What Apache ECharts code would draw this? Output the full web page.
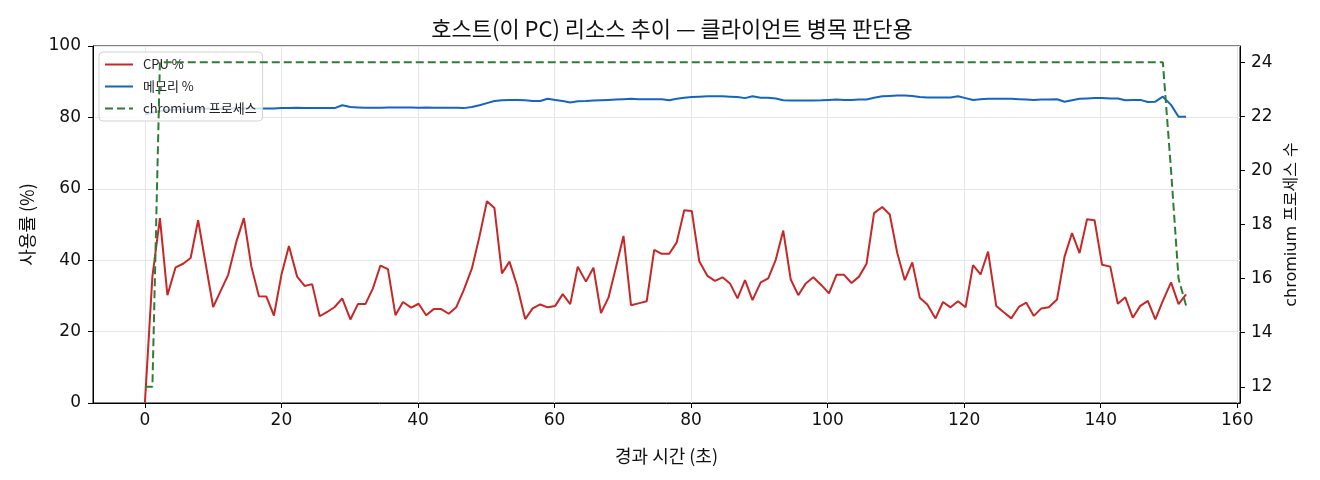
<!DOCTYPE html>
<html>
<head>
<meta charset="utf-8">
<script src="https://cdn.jsdelivr.net/npm/echarts@6/dist/echarts.min.js"></script>
<style>
  html, body { margin: 0; padding: 0; background: #fff; }
  #chart { width: 1320px; height: 480px; }
</style>
</head>
<body>
<div id="chart"></div>
<script>
// 경과 시간 (초) - 샘플 시각
var times = [
  0, 1.1, 2.2, 3.3, 4.5, 5.6, 6.7, 7.8, 8.9, 10.0,
  11.1, 12.2, 13.4, 14.5, 15.6, 16.7, 17.8, 18.9, 20.0, 21.1,
  22.3, 23.4, 24.5, 25.6, 26.7, 27.8, 28.9, 30.1, 31.2, 32.3,
  33.4, 34.5, 35.6, 36.7, 37.8, 39.0, 40.1, 41.2, 42.3, 43.4,
  44.5, 45.6, 46.7, 47.9, 49.0, 50.1, 51.2, 52.3, 53.4, 54.5,
  55.7, 56.8, 57.9, 59.0, 60.1, 61.2, 62.3, 63.4, 64.6, 65.7,
  66.8, 67.9, 69.0, 70.1, 71.2, 72.3, 73.5, 74.6, 75.7, 76.8,
  77.9, 79.0, 80.1, 81.2, 82.4, 83.5, 84.6, 85.7, 86.8, 87.9,
  89.0, 90.2, 91.3, 92.4, 93.5, 94.6, 95.7, 96.8, 97.9, 99.1,
  100.2, 101.3, 102.4, 103.5, 104.6, 105.7, 106.8, 108.0, 109.1, 110.2,
  111.3, 112.4, 113.5, 114.6, 115.8, 116.9, 118.0, 119.1, 120.2, 121.3,
  122.4, 123.5, 124.7, 125.8, 126.9, 128.0, 129.1, 130.2, 131.3, 132.4,
  133.6, 134.7, 135.8, 136.9, 138.0, 139.1, 140.2, 141.4, 142.5, 143.6,
  144.7, 145.8, 146.9, 148.0, 149.1, 150.3, 151.4, 152.5
];

// CPU %
var cpu = [
  0, 35.4, 51.8, 30.2, 38.0, 39.0, 40.6, 51.2, 39.0, 26.9,
  31.4, 35.9, 45.2, 51.8, 38.2, 29.9, 29.8, 24.5, 35.9, 44.0,
  35.4, 32.8, 33.3, 24.3, 25.5, 26.9, 29.3, 23.4, 27.7, 27.7,
  32.1, 38.5, 37.5, 24.6, 28.3, 26.7, 27.8, 24.6, 26.3, 26.3,
  25.0, 26.8, 31.6, 37.7, 46.6, 56.5, 54.6, 36.3, 39.6, 33.0,
  23.5, 26.5, 27.6, 26.8, 27.2, 30.5, 27.7, 38.2, 34.0, 37.9,
  25.2, 29.5, 38.0, 46.8, 27.4, 27.9, 28.5, 42.9, 41.8, 41.8,
  45.0, 54.0, 53.8, 39.7, 35.6, 34.2, 35.2, 33.5, 29.3, 34.4,
  28.8, 33.8, 34.9, 40.1, 48.3, 34.6, 30.2, 33.5, 35.2, 33.0,
  30.7, 35.9, 35.9, 33.6, 35.4, 39.0, 53.2, 54.9, 52.8, 42.0,
  34.4, 39.4, 29.5, 27.6, 23.7, 28.3, 26.8, 28.5, 26.8, 38.6,
  36.0, 42.4, 27.2, 25.4, 23.7, 26.9, 28.1, 24.4, 26.5, 26.8,
  29.0, 41.0, 47.6, 42.0, 51.5, 51.2, 38.7, 38.2, 27.8, 29.6,
  23.9, 27.2, 28.6, 23.4, 28.6, 33.8, 27.7, 30.4
];

// 메모리 %
var mem = [
  80.8, 81.3, 81.8, 82.0, 82.2, 82.3, 82.3, 82.4, 82.4, 82.4,
  82.4, 82.5, 82.5, 82.5, 82.5, 82.5, 82.5, 82.5, 82.6, 82.6,
  82.7, 82.6, 82.6, 82.6, 82.6, 82.6, 83.4, 82.9, 82.8, 82.7,
  82.7, 82.7, 82.8, 82.8, 82.8, 82.8, 82.7, 82.8, 82.7, 82.7,
  82.7, 82.7, 82.6, 82.9, 83.4, 84.0, 84.6, 84.8, 84.9, 84.9,
  84.8, 84.6, 84.6, 85.2, 84.9, 84.6, 84.2, 84.5, 84.6, 84.7,
  84.8, 84.9, 85.0, 85.1, 85.2, 85.1, 85.1, 85.1, 85.1, 84.8,
  85.2, 85.5, 85.7, 85.8, 85.9, 85.9, 85.9, 85.8, 85.7, 85.4,
  85.9, 85.5, 85.5, 85.3, 84.8, 84.7, 84.7, 84.7, 84.7, 84.8,
  84.9, 85.0, 84.9, 84.9, 85.0, 85.0, 85.5, 85.9, 86.0, 86.1,
  86.1, 86.0, 85.7, 85.6, 85.6, 85.6, 85.6, 85.9, 85.4, 84.9,
  85.1, 85.2, 85.2, 85.2, 85.2, 85.1, 85.0, 84.9, 85.0, 85.0,
  85.1, 84.4, 84.8, 85.2, 85.3, 85.4, 85.4, 85.3, 85.3, 84.8,
  84.9, 84.9, 84.3, 84.4, 85.8, 83.5, 80.2, 80.2
];

// chromium 프로세스 수
var procs = [
  12, 12, 24, 24, 24, 24, 24, 24, 24, 24,
  24, 24, 24, 24, 24, 24, 24, 24, 24, 24,
  24, 24, 24, 24, 24, 24, 24, 24, 24, 24,
  24, 24, 24, 24, 24, 24, 24, 24, 24, 24,
  24, 24, 24, 24, 24, 24, 24, 24, 24, 24,
  24, 24, 24, 24, 24, 24, 24, 24, 24, 24,
  24, 24, 24, 24, 24, 24, 24, 24, 24, 24,
  24, 24, 24, 24, 24, 24, 24, 24, 24, 24,
  24, 24, 24, 24, 24, 24, 24, 24, 24, 24,
  24, 24, 24, 24, 24, 24, 24, 24, 24, 24,
  24, 24, 24, 24, 24, 24, 24, 24, 24, 24,
  24, 24, 24, 24, 24, 24, 24, 24, 24, 24,
  24, 24, 24, 24, 24, 24, 24, 24, 24, 24,
  24, 24, 24, 24, 24, 20, 16, 15
];

var xTicks = [0, 20, 40, 60, 80, 100, 120, 140, 160];
var procTicks = [12, 14, 16, 18, 20, 22, 24];

var FONT = "'DejaVu Sans', 'Noto Sans CJK KR', sans-serif";
var KFONT = "'Noto Sans CJK KR', sans-serif";

function pairs(vals) {
  return times.map(function (t, i) { return [t, vals[i]]; });
}

var chart = echarts.init(document.getElementById('chart'), null, { renderer: 'canvas' });

var option = {
  animation: false,
  backgroundColor: '#fff',
  title: {
    text: '호스트(이 PC) 리소스 추이 — 클라이언트 병목 판단용',
    left: 667,
    textAlign: 'center',
    top: 13,
    textStyle: { fontFamily: KFONT, fontSize: 22, fontWeight: 'normal', color: '#111' }
  },
  grid: {
    left: 93, right: 80, top: 46, bottom: 77,
    show: true, borderColor: '#000', borderWidth: 1, backgroundColor: 'transparent'
  },
  legend: {
    orient: 'vertical',
    left: 99, top: 52,
    padding: [6, 6, 6, 5],
    itemWidth: 28, itemHeight: 14, itemGap: 9,
    backgroundColor: 'rgba(255,255,255,0.8)',
    borderColor: '#d3d3d3', borderWidth: 1, borderRadius: 4,
    itemStyle: { opacity: 0 },
    textStyle: { fontFamily: KFONT, fontSize: 13, color: '#222', padding: [0, 0, 0, 5] },
    data: ['CPU %', '메모리 %', 'chromium 프로세스']
  },
  xAxis: {
    type: 'value',
    min: -7.6, max: 160.4,
    name: '경과 시간 (초)',
    nameLocation: 'middle',
    nameGap: 44,
    nameTextStyle: { fontFamily: KFONT, fontSize: 18, color: '#111' },
    axisLine: { show: true, onZero: false, lineStyle: { color: '#000', width: 1 } },
    axisTick: { show: true, length: 5, customValues: xTicks, lineStyle: { color: '#000' } },
    axisLabel: { customValues: xTicks, margin: 9, fontFamily: FONT, fontSize: 17, color: '#111' },
    splitLine: { show: true, customValues: xTicks, lineStyle: { color: '#e6e6e6', width: 1 } }
  },
  yAxis: [
    {
      type: 'value',
      min: 0, max: 100, interval: 20,
      name: '사용률 (%)',
      nameLocation: 'middle',
      nameRotate: 90,
      nameGap: 57,
      nameTextStyle: { fontFamily: KFONT, fontSize: 18, color: '#111' },
      axisLine: { show: true, onZero: false, lineStyle: { color: '#000', width: 1 } },
      axisTick: { show: true, length: 5, lineStyle: { color: '#000' } },
      axisLabel: { margin: 12, fontFamily: FONT, fontSize: 17, color: '#111' },
      splitLine: { show: true, lineStyle: { color: '#e6e6e6', width: 1 } }
    },
    {
      type: 'value',
      position: 'right',
      min: 11.4, max: 24.6,
      name: 'chromium 프로세스 수',
      nameLocation: 'middle',
      nameRotate: 90,
      nameGap: 44,
      nameTextStyle: { fontFamily: FONT, fontSize: 16, color: '#111' },
      axisLine: { show: true, onZero: false, lineStyle: { color: '#000', width: 1 } },
      axisTick: { show: true, length: 5, customValues: procTicks, lineStyle: { color: '#000' } },
      axisLabel: { customValues: procTicks, margin: 11, fontFamily: FONT, fontSize: 17, color: '#111' },
      splitLine: { show: false }
    }
  ],
  series: [
    {
      name: 'CPU %',
      type: 'line',
      data: pairs(cpu),
      showSymbol: false,
      symbol: 'none',
      color: '#c62828',
      lineStyle: { color: '#c62828', width: 2 },
      z: 3
    },
    {
      name: '메모리 %',
      type: 'line',
      data: pairs(mem),
      showSymbol: false,
      symbol: 'none',
      color: '#1565c0',
      lineStyle: { color: '#1565c0', width: 2 },
      z: 3
    },
    {
      name: 'chromium 프로세스',
      type: 'line',
      yAxisIndex: 1,
      data: pairs(procs),
      showSymbol: false,
      symbol: 'none',
      color: '#2e7d32',
      lineStyle: { color: '#2e7d32', width: 2, type: [8, 4] },
      z: 4
    }
  ]
};

chart.setOption(option);
</script>
</body>
</html>
